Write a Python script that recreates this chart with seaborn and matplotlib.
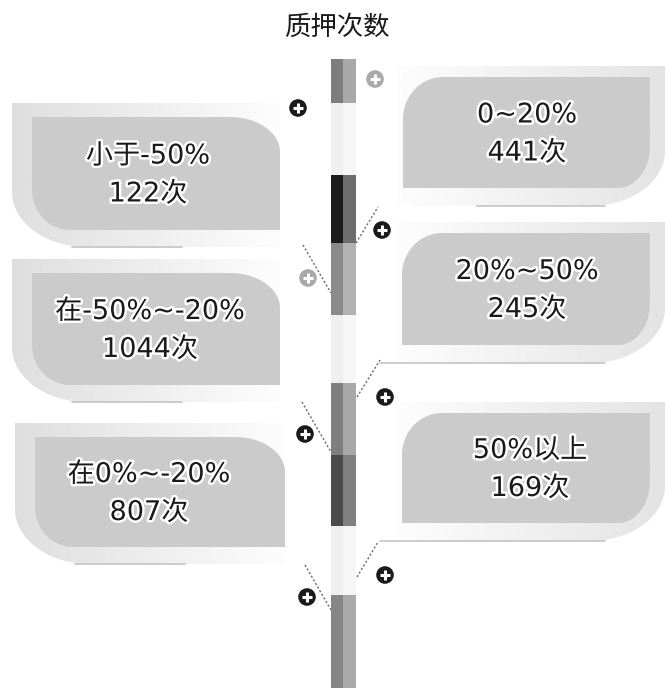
import numpy as np
import matplotlib
matplotlib.use('Agg')
import matplotlib.pyplot as plt
import matplotlib.patheffects as pe
from matplotlib.patches import Polygon
import seaborn as sns
import pandas as pd

# ---- data ----
title = '质押次数'
ranges = ['小于-50%', '在-50%~-20%', '在0%~-20%', '0~20%', '20%~50%', '50%以上']
counts = [122, 1044, 807, 441, 245, 169]
unit = '次'

# ---- layout (pixel space) ----
sides = ['L', 'L', 'L', 'R', 'R', 'R']
boxes = [(32, 280, 117, 230), (32, 280, 273, 385), (35, 285, 437, 547),
         (403, 650, 77, 188), (402, 650, 233, 345), (402, 650, 413, 523)]
text_x = [148, 150, 149, 527, 527, 530]

pole_edges = [59, 103, 175, 243, 315, 383, 455, 526, 595, 688]
pole_left = ['#7d7d7d', '#efefef', '#1c1c1c', '#8a8a8a', '#efefef', '#7f7f7f', '#4a4a4a', '#efefef', '#858585']
pole_right = ['#a9a9a9', '#f6f6f6', '#6c6c6c', '#b2b2b2', '#f6f6f6', '#a8a8a8', '#808080', '#f6f6f6', '#aaaaaa']

dots = pd.DataFrame({
    'x': [298, 375, 382, 308, 305, 385, 385, 307],
    'y': [108, 79, 230, 278, 434, 397, 575, 597],
    'tone': ['d', 'l', 'd', 'l', 'd', 'd', 'd', 'd'],
})
dashes = [((356, 243), (378, 207)), ((303, 245), (331, 293)),
          ((357, 397), (380, 360)), ((302, 402), (331, 452)),
          ((357, 577), (378, 542)), ((305, 565), (331, 610))]

sns.set_theme(style='white')
plt.rcParams['font.family'] = ['DejaVu Sans', 'Noto Sans CJK SC']

fig = plt.figure(figsize=(6.71, 6.88), dpi=100)
ax = fig.add_axes([0, 0, 1, 1])
ax.axis('off')


def rpoly(x0, x1, y0, y1, tl=(0, 0), tr=(0, 0), br=(0, 0), bl=(0, 0), n=24):
    pts = []

    def arc(cx, cy, rx, ry, a0, a1):
        t = np.radians(np.linspace(a0, a1, n))
        return list(zip(cx + rx * np.cos(t), cy + ry * np.sin(t)))
    pts += arc(x0 + tl[0], y0 + tl[1], tl[0], tl[1], 180, 270) if tl[0] else [(x0, y0)]
    pts += arc(x1 - tr[0], y0 + tr[1], tr[0], tr[1], 270, 360) if tr[0] else [(x1, y0)]
    pts += arc(x1 - br[0], y1 - br[1], br[0], br[1], 0, 90) if br[0] else [(x1, y1)]
    pts += arc(x0 + bl[0], y1 - bl[1], bl[0], bl[1], 90, 180) if bl[0] else [(x0, y1)]
    return np.array(pts)


def grad_fill(pts, x0, x1, y0, y1, c_left, c_right, z):
    poly = Polygon(pts, closed=True, facecolor='none', edgecolor='none', zorder=z)
    ax.add_patch(poly)
    g = np.linspace(c_left, c_right, 256)[None, :]
    im = ax.imshow(g, extent=(x0, x1, y1, y0), cmap='gray', vmin=0, vmax=1,
                   aspect='auto', zorder=z, interpolation='bilinear')
    im.set_clip_path(poly)


halo = [pe.withStroke(linewidth=3.5, foreground='white')]

for side, (x0, x1, y0, y1), tx, lab, cnt in zip(sides, boxes, text_x, ranges, counts):
    if side == 'L':
        sx0, sx1, sy0, sy1 = x0 - 20, x1, y0 - 14, y1 + 17
        sh = rpoly(sx0, sx1, sy0, sy1, bl=(75, 55))
        grad_fill(sh, sx0, sx1, sy0, sy1, 0.87, 0.99, 1)
        ax.plot([sx0 + 60, sx0 + 170], [sy1 - 0.5, sy1 - 0.5], color='#c4c4c4', lw=1.2, zorder=1.5)
        main = rpoly(x0, x1, y0, y1, tr=(50, 35), bl=(38, 40))
    else:
        sx0, sx1, sy0, sy1 = x0 - 6, x1 + 15, y0 - 11, y1 + 18
        sh = rpoly(sx0, sx1, sy0, sy1, br=(75, 55))
        grad_fill(sh, sx0, sx1, sy0, sy1, 0.99, 0.89, 1)
        start = 380 if y0 > 200 else sx0 + 80
        ax.plot([start, sx1 - 60], [sy1 - 0.5, sy1 - 0.5], color='#c4c4c4', lw=1.2, zorder=1.5)
        main = rpoly(x0, x1, y0, y1, tl=(40, 42), br=(32, 42))
    ax.add_patch(Polygon(main, closed=True, facecolor='#cbcbcb', edgecolor='none', zorder=2))
    cy = (y0 + y1) / 2 + 2
    ax.text(tx, cy - 19, lab, ha='center', va='center', fontsize=19.5, color='#1a1a1a',
            path_effects=halo, zorder=5)
    ax.text(tx, cy + 19, f'{cnt}{unit}', ha='center', va='center', fontsize=19.5, color='#1a1a1a',
            path_effects=halo, zorder=5)

# central pole
lo = np.array(pole_edges[:-1])
hi = np.array(pole_edges[1:])
ax.bar(337, hi - lo, bottom=lo, width=12, color=pole_left, linewidth=0, zorder=3)
ax.bar(349.5, hi - lo, bottom=lo, width=13, color=pole_right, linewidth=0, zorder=3)

# dashed connectors
for (a, b) in dashes:
    ax.plot([a[0], b[0]], [a[1], b[1]], ls=(0, (1.5, 1.5)), color='#6a6a6a', lw=1.0, zorder=2.5)

# plus badges
sns.scatterplot(data=dots, x='x', y='y', hue='tone', palette={'d': '#1a1a1a', 'l': '#a9a9a9'},
                s=160, edgecolor='none', legend=False, ax=ax, zorder=4)
ax.scatter(dots['x'], dots['y'], marker='+', s=55, color='white', linewidths=2.2, zorder=4.5)

ax.text(337, 27, title, ha='center', va='center', fontsize=19, color='#1a1a1a',
        family=['Noto Sans CJK SC', 'DejaVu Sans'], zorder=5)

ax.set_xlim(0, 671)
ax.set_ylim(688, 0)
ax.axis('off')
fig.savefig('out.png', dpi=100, facecolor='white')
